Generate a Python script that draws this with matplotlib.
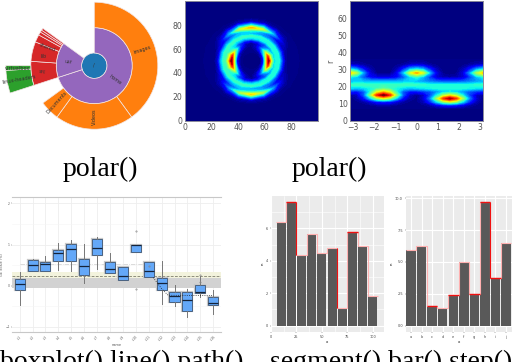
import numpy as np
import matplotlib
matplotlib.use('Agg')
import matplotlib.pyplot as plt
import matplotlib.patheffects as pe

W, H = 514, 362
SERIF = 'Liberation Serif'

# sunburst, ring by ring, in degrees going clockwise from the top (None = gap)
ring2_sizes = [252, 54, 54]
ring2_names = ['home', 'usr', None]
ring3_sizes = [144, 72, 18, 18, 22, 18, 7, 3, 2, 2, 54]
ring3_names = ['images', 'videos', 'documents', None, 'src', 'lib', 'shared', 'a', 'b', 'c', None]
ring4_sizes = [252, 15, 3, 90]
ring4_names = [None, 'linux-headers', 'virtualbox', None]

sun_labels = ['/', 'home', 'usr', 'images', 'Videos', 'Documents', 'src', 'lib', 'shared', 'linux-headers', 'virtualbox']
sun_label_x = [94, 115, 69, 142, 94, 57, 43, 44, 47, 19, 18]
sun_label_y = [65, 80, 62, 50, 117, 102, 72, 56, 47, 80, 68]
sun_label_rot = [0, -35, -5, 18, 90, 48, -5, 3, -20, 10, 0]

# density
theta = [-3.14, -2.83, -2.51, -2.20, -1.88, -1.57, -1.26, -0.94, -0.63, -0.31, 0,
         0.31, 0.63, 0.94, 1.26, 1.57, 1.88, 2.20, 2.51, 2.83, 3.14]
radius = [7, 9, 11, 13, 15, 17, 19, 21, 23, 25.5, 28, 30.5, 33, 36]
r07 = [0] * 21
r09 = [0, 0, 0, .01, .02, .02, .02, .01, 0, 0, 0, .01, .03, .08, .12, .14, .12, .08, .03, .01, 0]
r11 = [0, .01, .03, .07, .13, .15, .13, .07, .03, .01, .01, .04, .15, .32, .50, .58, .50, .32, .15, .04, 0]
r13 = [0, .03, .12, .30, .51, .60, .51, .30, .12, .03, .01, .07, .24, .53, .84, .97, .84, .53, .24, .07, 0]
r15 = [.02, .05, .20, .50, .85, 1.0, .85, .50, .20, .05, .01, .06, .18, .35, .52, .60, .52, .35, .18, .06, .02]
r17 = [.14, .13, .20, .38, .59, .68, .59, .38, .20, .13, .13, .16, .20, .26, .32, .34, .32, .26, .20, .16, .14]
r19 = [.33, .31, .33, .37, .42, .45, .42, .37, .33, .31, .33, .35, .37, .38, .38, .38, .38, .38, .37, .35, .33]
r21 = [.41, .42, .42, .42, .42, .42, .42, .42, .42, .42, .41, .40, .38, .38, .38, .38, .38, .38, .38, .40, .41]
r23 = [.29, .33, .31, .30, .30, .30, .30, .30, .31, .33, .30, .27, .24, .21, .20, .20, .20, .21, .24, .27, .29]
r25 = [.36, .31, .20, .11, .08, .07, .08, .11, .20, .33, .39, .30, .17, .07, .04, .03, .04, .07, .17, .30, .36]
r28 = [.68, .54, .27, .08, .01, 0, .01, .09, .30, .59, .72, .59, .30, .09, .01, 0, .01, .08, .27, .54, .68]
r30 = [.31, .24, .12, .04, 0, 0, 0, .04, .14, .27, .32, .27, .14, .04, 0, 0, 0, .04, .12, .24, .31]
r33 = [.05, .04, .02, .01, 0, 0, 0, .01, .02, .05, .06, .05, .02, .01, 0, 0, 0, .01, .02, .04, .05]
r36 = [0] * 21
density = [r07, r09, r11, r13, r15, r17, r19, r21, r23, r25, r28, r30, r33, r36]

# boxplot panel
box_labels = ['t-%d' % i for i in range(1, 17)]
q3 = [.16, .62, .59, .86, 1.01, .66, 1.13, .57, .45, 1.00, .58, .20, -.14, -.15, .02, -.28]
med = [.05, .51, .53, .79, .90, .49, .93, .41, .25, .99, .35, .06, -.26, -.34, -.15, -.42]
q1 = [-.10, .37, .36, .60, .60, .27, .74, .32, .14, .82, .21, -.11, -.39, -.61, -.17, -.46]
whis_hi = [.34, .66, .72, 1.03, 1.11, 1.01, 1.18, .80, .45, 1.00, .58, .61, .02, -.09, .24, -.10]
whis_lo = [-.47, .37, .36, .38, .36, .06, .40, .32, .14, .82, .21, -.45, -.49, -.76, -.27, -.69]
outliers = [[], [], [], [], [], [], [], [], [], [1.32, -.07], [.48], [], [], [], [.08, .26], []]
band_low = [-.05, .18]
band_high = [.18, .33]
dash_level = .25
dashdot_level = .52
dotted_x = [11.35, 12, 12.5, 16]
dotted_y = [.2, -.07, -.23, -.24]

# bar panels
bar1_x = [10, 20, 30, 40, 50, 60, 70, 80, 90, 100]
bar1_y = [6.37, 7.6, 4.37, 5.66, 4.45, 4.78, 1.09, 5.8, 4.92, 1.84]
bar1_red = [1, 7]
bar1_drop = [1, 5]
bar2_names = ['a', 'b', 'c', 'd', 'e', 'f', 'g', 'h', 'i', 'j']
bar2_y = [5.97, 6.28, 1.57, 1.39, 2.38, 4.97, 2.51, 9.69, 3.77, 6.49]
bar2_red = [2, 4, 6, 7, 8]
bar2_drop = [7]


def ax_px(left, top, right, bottom):
    return fig.add_axes([left / W, 1 - bottom / H, (right - left) / W, (bottom - top) / H])


def ring(ax, sizes, names, colors, outer, width):
    wedges, _ = ax.pie(sizes, colors=colors, radius=outer, startangle=90, counterclock=False,
                       wedgeprops=dict(width=width, edgecolor='#f2e6e6', linewidth=0.5))
    for w, n in zip(wedges, names):
        if n is None:
            w.set_visible(False)


def heat_axes(ax):
    ax.set_facecolor(plt.cm.jet(0.0))
    ax.tick_params(labelsize=5.6, colors='#555555', length=0, pad=2)
    for s in ax.spines.values():
        s.set_color('#8a8a9a')
        s.set_linewidth(0.7)


def gg_axes(ax):
    ax.set_facecolor('#ebebeb')
    ax.set_axisbelow(True)
    ax.grid(True, which='major', color='white', linewidth=0.8)
    ax.grid(True, which='minor', color='white', linewidth=0.4)
    ax.tick_params(which='major', labelsize=2.5, length=1, width=0.3, pad=1, colors='#444444')
    ax.tick_params(which='minor', length=0)
    for s in ax.spines.values():
        s.set_visible(False)


def bars_with_step(ax, x, y, width, step, red, drop):
    y = np.array(y)
    edges = np.append(np.array(x) - step / 2, x[-1] + step / 2)
    ax.bar(x, y, width=width, color='#595959', zorder=2)
    ax.stairs(y, edges, color='#ffb0b0', lw=0.8, baseline=None, zorder=3)
    ax.hlines(y[red], edges[red], edges[np.array(red) + 1], color='#f01010', lw=1.0, zorder=4)
    ax.vlines(edges[np.array(drop) + 1], y[np.array(drop) + 1], y[drop], color='#f01010', lw=0.8, zorder=4)


fig = plt.figure(figsize=(W / 100, H / 100), dpi=100)

# sunburst
ax = ax_px(2.3, -26.3, 186.3, 157.7)
ax.patch.set_alpha(0)
ring(ax, [360], ['/'], ['#1f77b4'], 12.7, 12.7)
ring(ax, ring2_sizes, ring2_names, ['#9467bd'] * 3, 38, 25.3)
ring(ax, ring3_sizes, ring3_names, ['#ff7f0e'] * 4 + ['#d62728'] * 7, 63.5, 25.5)
ring(ax, ring4_sizes, ring4_names, ['#2ca02c'] * 4, 88.5, 25)
ax.set_xlim(-92, 92)
ax.set_ylim(-92, 92)
ax.set_aspect('equal')
for t, x, y, rot in zip(sun_labels, sun_label_x, sun_label_y, sun_label_rot):
    ax.text(x - 94.3, 65.7 - y, t, fontsize=3.6, color='#333333', rotation=rot,
            ha='center', va='center')

# the same density, on x/y and on r/theta
theta_grid, r_grid = np.meshgrid(theta, radius)
levels = np.linspace(0, 1, 65)

ax = ax_px(185, 1.3, 317.7, 120.7)
heat_axes(ax)
ax.contourf(50 + r_grid * np.sin(theta_grid), 50 + r_grid * np.cos(theta_grid), density,
            levels=levels, cmap='jet')
ax.set_xlim(0, 100)
ax.set_ylim(0, 100)
ax.set_xticks([0, 20, 40, 60, 80])
ax.set_yticks([0, 20, 40, 60, 80])

ax = ax_px(350.3, 1.3, 483, 120.7)
heat_axes(ax)
ax.contourf(theta_grid, r_grid, density, levels=levels, cmap='jet')
ax.set_xlim(-3.14, 3.14)
ax.set_ylim(0, 70)
ax.set_xticks([-3, -2, -1, 0, 1, 2, 3])
ax.set_yticks([0, 10, 20, 30, 40, 50, 60])
ax.set_ylabel('r', fontsize=5.6, color='#555555', labelpad=2)

# boxplot
ax = ax_px(12.3, 197.3, 220.7, 332.3)
stats = []
for i in range(16):
    stats.append(dict(med=med[i], q1=q1[i], q3=q3[i], whislo=whis_lo[i], whishi=whis_hi[i],
                      fliers=outliers[i], label=box_labels[i]))
ax.axhspan(band_high[0], band_high[1], color='#f3f3dd', lw=0, zorder=1)
ax.axhspan(band_low[0], band_low[1], color='#d2d2d2', lw=0, zorder=1)
ax.axhline(dash_level, color='#666655', lw=0.5, ls=(0, (4, 2)), zorder=2)
ax.plot([1, 11], [dashdot_level, dashdot_level], color='#cccccc', lw=0.5, ls='-.', zorder=2)
halo = [pe.withStroke(linewidth=1.6, foreground='#c8c8c8')]
ax.bxp(stats, widths=0.78, patch_artist=True, showcaps=False, zorder=3,
       boxprops=dict(facecolor='#64a8f8', edgecolor='#4a6280', linewidth=0.7, path_effects=halo),
       medianprops=dict(color='#14233a', linewidth=0.9),
       whiskerprops=dict(color='#777777', linewidth=0.7),
       flierprops=dict(marker='.', markersize=0.8, markeredgecolor='#888888', markerfacecolor='#888888'))
ax.plot(dotted_x, dotted_y, color='#222222', lw=0.6, ls=':', zorder=4)
ax.set_xlim(0.43, 16.58)
ax.set_ylim(-1.13, 2.15)
ax.set_yticks([-1, 0, 1, 2])
ax.set_yticks([-.5, .5, 1.5], minor=True)
ax.grid(True, which='major', color='#eeeeee', linewidth=0.6)
ax.grid(True, which='minor', axis='y', color='#f5f5f5', linewidth=0.4)
ax.set_axisbelow(True)
ax.tick_params(axis='x', labelsize=2.2, labelrotation=45, length=0.8, width=0.3, pad=1, colors='#555555')
ax.tick_params(axis='y', which='major', labelsize=2.2, length=0.8, width=0.3, pad=1, colors='#555555')
ax.tick_params(axis='y', which='minor', length=0)
ax.set_xlabel('name', fontsize=2.5, labelpad=1, color='#555555')
ax.set_ylabel('GE Scale (%)', fontsize=2.5, labelpad=1, color='#555555')
for side in ['left', 'right']:
    ax.spines[side].set_visible(False)
for side in ['top', 'bottom']:
    ax.spines[side].set_color('#c8c8c8')
    ax.spines[side].set_linewidth(0.8)

# bar + step, numeric x
ax = ax_px(271, 196, 384, 332)
gg_axes(ax)
bars_with_step(ax, bar1_x, bar1_y, 9, 10, bar1_red, bar1_drop)
ax.set_xlim(0.6, 111)
ax.set_ylim(-0.39, 7.99)
ax.set_xticks([0, 25, 50, 75, 100])
ax.set_xticklabels(['0', '25', '50', '75', '100'])
ax.set_yticks([0, 2, 4, 6])
ax.set_yticks([1, 3, 5, 7], minor=True)
ax.set_xticks([12.5, 37.5, 62.5, 87.5], minor=True)
ax.set_xlabel('x', fontsize=2.8, labelpad=1)
ax.set_ylabel('n', fontsize=2.8, labelpad=1)

# bar + step, categories
ax = ax_px(405.7, 196, 511.7, 332)
gg_axes(ax)
pos = np.arange(len(bar2_names))
bars_with_step(ax, pos, bar2_y, 0.9, 1, bar2_red, bar2_drop)
ax.set_xlim(-0.52, 9.55)
ax.set_ylim(-0.5, 10.18)
ax.set_xticks(pos)
ax.set_xticklabels(bar2_names)
ax.set_yticks([0, 2.5, 5, 7.5, 10])
ax.set_yticklabels(['0.0', '2.5', '5.0', '7.5', '10.0'])
ax.set_xlabel('x', fontsize=2.8, labelpad=1)
ax.set_ylabel('n', fontsize=2.8, labelpad=1)

# captions
fig.text(100 / W, 1 - 176 / H, 'polar()', family=SERIF, fontsize=20, ha='center', va='baseline')
fig.text(329 / W, 1 - 176 / H, 'polar()', family=SERIF, fontsize=20, ha='center', va='baseline')
fig.text(122 / W, 1 - 369 / H, 'boxplot() line() path()', family=SERIF, fontsize=20, ha='center', va='baseline')
fig.text(391 / W, 1 - 369 / H, 'segment() bar() step()', family=SERIF, fontsize=20, ha='center', va='baseline')

fig.savefig('out.png', dpi=100)
